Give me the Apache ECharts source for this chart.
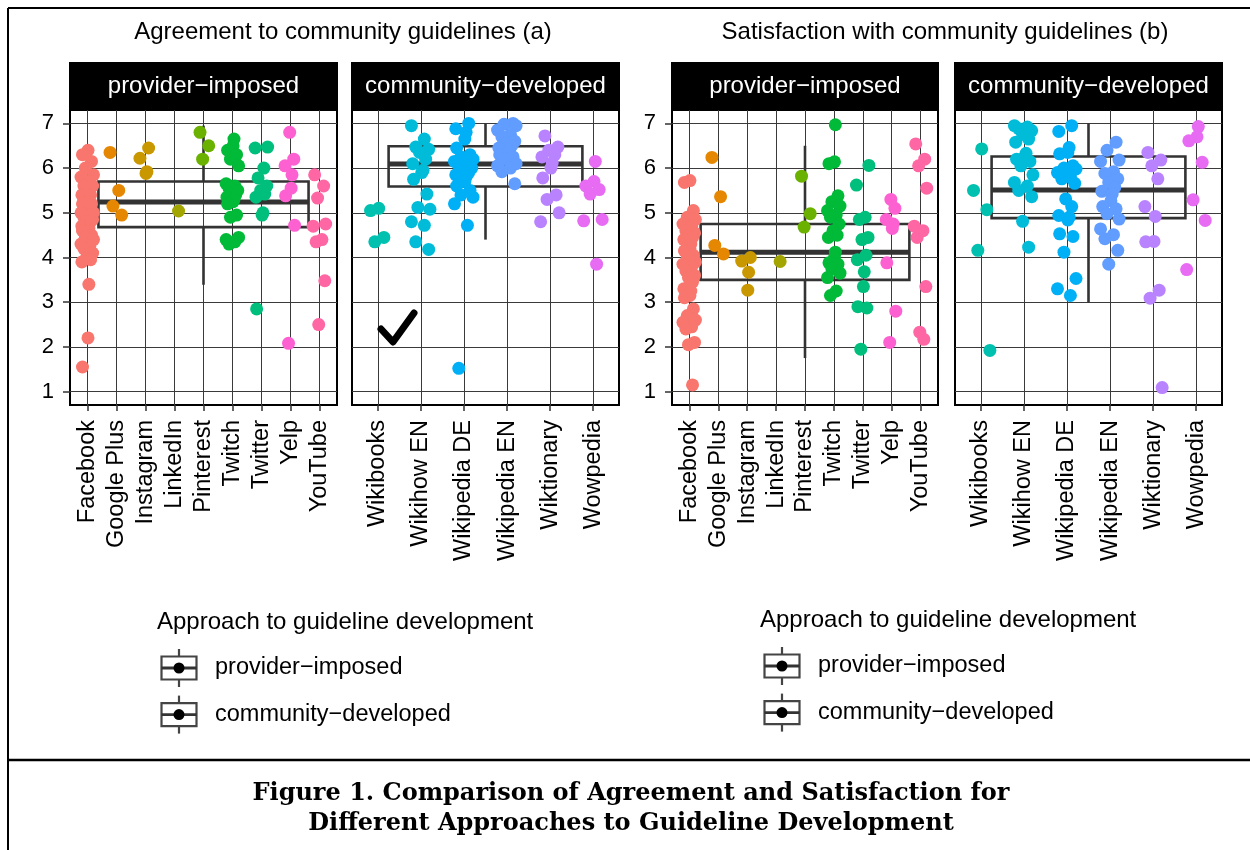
<!DOCTYPE html>
<html>
<head>
<meta charset="utf-8">
<script src="https://cdn.jsdelivr.net/npm/echarts@6/dist/echarts.min.js"></script>
<style>
  html, body { margin: 0; padding: 0; background: #fff; }
  #chart { width: 1250px; height: 850px; }
</style>
</head>
<body>
<div id="chart"></div>
<script>
// categories (platforms) per facet
const providerCats = ['Facebook', 'Google Plus', 'Instagram', 'LinkedIn', 'Pinterest', 'Twitch', 'Twitter', 'Yelp', 'YouTube']
const communityCats = ['Wikibooks', 'Wikihow EN', 'Wikipedia DE', 'Wikipedia EN', 'Wiktionary', 'Wowpedia']
const yTicks = [1, 2, 3, 4, 5, 6, 7]

// ggplot hue palette over all 15 platforms (alphabetical)
const platformColors = {
  'Facebook': '#F8766D', 'Google Plus': '#E58700', 'Instagram': '#C99800', 'LinkedIn': '#A3A500',
  'Pinterest': '#6BB100', 'Twitch': '#00BA38', 'Twitter': '#00BF7D', 'Wikibooks': '#00C0AF',
  'Wikihow EN': '#00BCD8', 'Wikipedia DE': '#00B0F6', 'Wikipedia EN': '#619CFF', 'Wiktionary': '#B983FF',
  'Wowpedia': '#E76BF3', 'Yelp': '#FD61D1', 'YouTube': '#FF67A4'
}

// (a) agreement, provider-imposed, one list per platform
const agreementProvider = [
  [6.4, 6.3, 6.15, 6.0, 5.85, 5.8, 5.7, 5.6, 5.6, 5.5, 5.4, 5.4, 5.3, 5.25, 5.2, 5.2, 5.1, 5.0, 5.0, 4.95,
    4.9, 4.85, 4.8, 4.8, 4.7, 4.65, 4.6, 4.6, 4.5, 4.45, 4.4, 4.3, 4.25, 4.2, 4.1, 4.0, 3.95, 3.9, 3.4, 2.2, 1.55],
  [6.35, 5.5, 5.15, 4.95],
  [6.45, 6.22, 5.92, 5.88],
  [5.04],
  [6.8, 6.5, 6.2],
  [6.65, 6.5, 6.4, 6.3, 6.2, 6.05, 5.65, 5.6, 5.55, 5.5, 5.45, 5.4, 5.35, 5.3, 5.25, 5.2, 4.95, 4.9, 4.45, 4.4, 4.35, 4.3],
  [6.47, 6.45, 6.0, 5.78, 5.6, 5.5, 5.42, 5.35, 5.0, 4.95, 2.85],
  [6.8, 6.2, 6.05, 5.85, 5.55, 5.38, 4.72, 2.08],
  [5.85, 5.6, 5.33, 4.75, 4.7, 4.4, 4.35, 3.48, 2.5]
]
// (a) agreement, community-developed
const agreementCommunity = [
  [5.1, 5.05, 4.45, 4.35],
  [6.95, 6.65, 6.47, 6.42, 6.35, 6.2, 6.1, 5.95, 5.9, 5.75, 5.42, 5.12, 5.08, 4.8, 4.72, 4.35, 4.18],
  [7.0, 6.88, 6.8, 6.65, 6.45, 6.3, 6.25, 6.2, 6.15, 6.1, 6.05, 6.0, 5.95, 5.9, 5.85, 5.8, 5.7, 5.6, 5.5, 5.4, 5.35, 5.2, 4.72, 1.52],
  [7.0, 6.98, 6.95, 6.85, 6.75, 6.7, 6.6, 6.55, 6.5, 6.45, 6.4, 6.35, 6.3, 6.25, 6.2, 6.1, 6.05, 6.0, 5.92, 5.65],
  [6.72, 6.47, 6.4, 6.3, 6.25, 6.12, 6.0, 5.78, 5.4, 5.3, 5.0, 4.8],
  [6.15, 5.7, 5.6, 5.52, 5.42, 4.85, 4.82, 3.85]
]
// (b) satisfaction, provider-imposed
const satisfactionProvider = [
  [5.72, 5.68, 5.05, 4.9, 4.85, 4.75, 4.7, 4.6, 4.55, 4.5, 4.45, 4.4, 4.3, 4.2, 4.15, 4.05, 4.0, 3.9, 3.85,
    3.8, 3.7, 3.6, 3.55, 3.45, 3.3, 3.25, 3.15, 3.1, 2.85, 2.7, 2.6, 2.55, 2.45, 2.4, 2.1, 2.05, 1.15],
  [6.24, 5.36, 4.27, 4.08],
  [4.0, 3.92, 3.67, 3.27],
  [3.91],
  [5.82, 4.98, 4.68],
  [6.97, 6.14, 6.1, 5.38, 5.25, 5.15, 5.05, 4.95, 4.9, 4.75, 4.6, 4.5, 4.45, 4.12, 4.0, 3.88, 3.85, 3.75, 3.65, 3.55, 3.25, 3.15],
  [6.06, 5.62, 4.9, 4.85, 4.45, 4.4, 4.05, 3.95, 3.68, 3.35, 2.9, 2.87, 1.95],
  [5.3, 5.1, 4.85, 4.75, 4.65, 3.88, 2.8, 2.1],
  [6.54, 6.2, 6.05, 5.55, 4.7, 4.6, 4.45, 3.35, 2.33, 2.17]
]
// (b) satisfaction, community-developed
const satisfactionCommunity = [
  [6.43, 5.5, 5.07, 4.16, 1.92],
  [6.95, 6.92, 6.88, 6.84, 6.76, 6.65, 6.58, 6.33, 6.25, 6.2, 6.15, 6.05, 5.85, 5.68, 5.6, 5.5, 5.36, 4.81, 4.23],
  [6.95, 6.82, 6.46, 6.35, 6.32, 6.05, 6.0, 5.98, 5.9, 5.8, 5.76, 5.66, 5.31, 5.14, 4.94, 4.9, 4.84, 4.53, 4.47, 4.12, 3.53, 3.3, 3.15],
  [6.58, 6.4, 6.18, 6.15, 5.92, 5.88, 5.76, 5.68, 5.57, 5.48, 5.42, 5.27, 5.14, 5.09, 4.98, 4.86, 4.64, 4.51, 4.42, 4.16, 3.85],
  [6.35, 6.18, 6.05, 5.76, 5.14, 4.92, 4.36, 4.35, 3.27, 3.09, 1.09],
  [6.93, 6.7, 6.61, 6.13, 5.29, 4.83, 3.73]
]

// boxplot stats per facet: [lower whisker, Q1, median, Q3, upper whisker]
const boxAgreementProvider = [3.39, 4.68, 5.24, 5.7, 6.95]
const boxAgreementCommunity = [4.4, 5.59, 6.09, 6.49, 7.0]
const boxSatisfactionProvider = [1.75, 3.5, 4.12, 4.75, 6.5]
const boxSatisfactionCommunity = [3.0, 4.88, 5.51, 6.26, 7.0]

const FONT = '"Liberation Sans", Arial, sans-serif'
// horizontal spread pattern for the jittered points (cosmetic only)
const JIT = [0.02, -0.17, 0.14, -0.07, 0.21, -0.22, 0.08, -0.12, 0.18, -0.03, 0.11, -0.19, 0.05]

const panels = [
  { cats: providerCats, values: agreementProvider, box: boxAgreementProvider, left: 70, width: 267, halfBox: 3.62, yLabels: true },
  { cats: communityCats, values: agreementCommunity, box: boxAgreementCommunity, left: 352, width: 267, halfBox: 2.25, yLabels: false },
  { cats: providerCats, values: satisfactionProvider, box: boxSatisfactionProvider, left: 672, width: 266, halfBox: 3.61, yLabels: true },
  { cats: communityCats, values: satisfactionCommunity, box: boxSatisfactionCommunity, left: 955, width: 267, halfBox: 2.25, yLabels: false }
]
const GRID_TOP = 110
const GRID_H = 295

const chart = echarts.init(document.getElementById('chart'), null, { renderer: 'canvas' })

const grid = panels.map(p => ({
  left: p.left, top: GRID_TOP, width: p.width, height: GRID_H,
  show: true, borderColor: '#000', borderWidth: 2, backgroundColor: '#fff'
}))

const xAxis = panels.map((p, k) => {
  const idx = p.cats.map((c, i) => i)
  return {
    type: 'value', gridIndex: k, min: -0.6, max: p.cats.length - 0.4,
    axisLine: { show: false, onZero: false },
    axisTick: { show: true, customValues: idx, length: 6, lineStyle: { color: '#333', width: 1.5 } },
    axisLabel: {
      customValues: idx, rotate: 90, margin: 15, fontSize: 23.5, color: '#000', fontFamily: FONT,
      formatter: v => p.cats[Math.round(v)]
    },
    splitLine: { show: true, lineStyle: { color: '#3a3a3a', width: 1 } }
  }
})

const yAxis = panels.map((p, k) => ({
  type: 'value', gridIndex: k, min: 0.7, max: 7.3,
  axisLine: { show: false, onZero: false },
  axisTick: { show: p.yLabels, customValues: yTicks, length: 7, lineStyle: { color: '#333', width: 1.5 } },
  axisLabel: { show: p.yLabels, customValues: yTicks, margin: 16, fontSize: 22, color: '#000', fontFamily: FONT },
  splitLine: { show: true, lineStyle: { color: '#3a3a3a', width: 1 } }
}))

const series = []
panels.forEach((p, k) => {
  const center = (p.cats.length - 1) / 2
  series.push({
    type: 'custom',
    xAxisIndex: k,
    yAxisIndex: k,
    z: 2,
    silent: true,
    data: [[center].concat(p.box)],
    renderItem: (params, api) => {
      const cx = api.value(0)
      const lo = api.coord([cx, api.value(1)])
      const q1 = api.coord([cx - p.halfBox, api.value(2)])
      const med = api.coord([cx - p.halfBox, api.value(3)])
      const q3 = api.coord([cx + p.halfBox, api.value(4)])
      const hi = api.coord([cx, api.value(5)])
      const stroke = '#333'
      return {
        type: 'group',
        children: [
          { type: 'line', shape: { x1: hi[0], y1: hi[1], x2: hi[0], y2: q3[1] }, style: { stroke, lineWidth: 2.6 } },
          { type: 'line', shape: { x1: lo[0], y1: q1[1], x2: lo[0], y2: lo[1] }, style: { stroke, lineWidth: 2.6 } },
          { type: 'rect', shape: { x: q1[0], y: q3[1], width: q3[0] - q1[0], height: q1[1] - q3[1] }, style: { fill: 'none', stroke, lineWidth: 2.6 } },
          { type: 'line', shape: { x1: q1[0], y1: med[1], x2: q3[0], y2: med[1] }, style: { stroke, lineWidth: 5 } }
        ]
      }
    }
  })
  const pts = []
  p.cats.forEach((cat, i) => {
    p.values[i].forEach((v, j) => {
      pts.push({ value: [i + JIT[(j + i * 5) % JIT.length], v], itemStyle: { color: platformColors[cat] } })
    })
  })
  series.push({
    type: 'scatter',
    xAxisIndex: k,
    yAxisIndex: k,
    z: 3,
    symbolSize: 13,
    itemStyle: { opacity: 1 },
    data: pts
  })
})

// strips, titles, legend, caption, frame
const graphic = []
const stripLabels = ['provider−imposed', 'community−developed', 'provider−imposed', 'community−developed']
panels.forEach((p, k) => {
  graphic.push({ type: 'rect', shape: { x: p.left - 1, y: 62, width: p.width + 2, height: 48 }, style: { fill: '#000' } })
  graphic.push({
    type: 'text', x: p.left + p.width / 2, y: 86,
    style: { text: stripLabels[k], fill: '#fff', font: '24px ' + FONT, textAlign: 'center', textVerticalAlign: 'middle' }
  })
})
graphic.push({ type: 'text', x: 343, y: 32, style: { text: 'Agreement to community guidelines (a)', fill: '#000', font: '24px ' + FONT, textAlign: 'center', textVerticalAlign: 'middle' } })
graphic.push({ type: 'text', x: 945, y: 32, style: { text: 'Satisfaction with community guidelines (b)', fill: '#000', font: '24px ' + FONT, textAlign: 'center', textVerticalAlign: 'middle' } })

// check mark drawn in facet (a) community-developed
graphic.push({
  type: 'polyline', shape: { points: [[381, 329], [393, 342], [414, 313]] },
  style: { stroke: '#000', lineWidth: 7, fill: 'none', lineCap: 'round', lineJoin: 'round' }, z: 10
})

const legendLabels = ['provider−imposed', 'community−developed']
function addLegend (x, y) {
  graphic.push({ type: 'text', x: x, y: y, style: { text: 'Approach to guideline development', fill: '#000', font: '24px ' + FONT, textVerticalAlign: 'middle' } })
  legendLabels.forEach((lab, i) => {
    const cy = y + 46 + i * 46.6
    const cx = x + 22
    graphic.push({ type: 'line', shape: { x1: cx, y1: cy - 19, x2: cx, y2: cy + 19 }, style: { stroke: '#444', lineWidth: 2.2 } })
    graphic.push({ type: 'rect', shape: { x: cx - 17.5, y: cy - 11.5, width: 35, height: 23 }, style: { fill: '#fff', stroke: '#444', lineWidth: 2.2 } })
    graphic.push({ type: 'line', shape: { x1: cx - 17.5, y1: cy, x2: cx + 17.5, y2: cy }, style: { stroke: '#333', lineWidth: 2.8 } })
    graphic.push({ type: 'circle', shape: { cx: cx, cy: cy, r: 5.5 }, style: { fill: '#000' } })
    graphic.push({ type: 'text', x: x + 58, y: cy, style: { text: lab, fill: '#000', font: '23.5px ' + FONT, textVerticalAlign: 'middle' } })
  })
}
addLegend(157, 622)
addLegend(760, 620)

graphic.push({ type: 'line', shape: { x1: 8, y1: 8, x2: 1250, y2: 8 }, style: { stroke: '#000', lineWidth: 2 } })
graphic.push({ type: 'line', shape: { x1: 8, y1: 8, x2: 8, y2: 850 }, style: { stroke: '#000', lineWidth: 2 } })
graphic.push({ type: 'line', shape: { x1: 8, y1: 760, x2: 1250, y2: 760 }, style: { stroke: '#000', lineWidth: 2.5 } })
graphic.push({ type: 'text', x: 631, y: 794, style: { text: 'Figure 1. Comparison of Agreement and Satisfaction for', fill: '#000', font: 'bold 24px "DejaVu Serif", serif', textAlign: 'center', textVerticalAlign: 'middle' } })
graphic.push({ type: 'text', x: 631, y: 824, style: { text: 'Different Approaches to Guideline Development', fill: '#000', font: 'bold 24px "DejaVu Serif", serif', textAlign: 'center', textVerticalAlign: 'middle' } })

chart.setOption({
  backgroundColor: '#ffffff',
  animation: false,
  textStyle: { fontFamily: FONT },
  grid: grid,
  xAxis: xAxis,
  yAxis: yAxis,
  series: series,
  graphic: graphic
})
</script>
</body>
</html>
